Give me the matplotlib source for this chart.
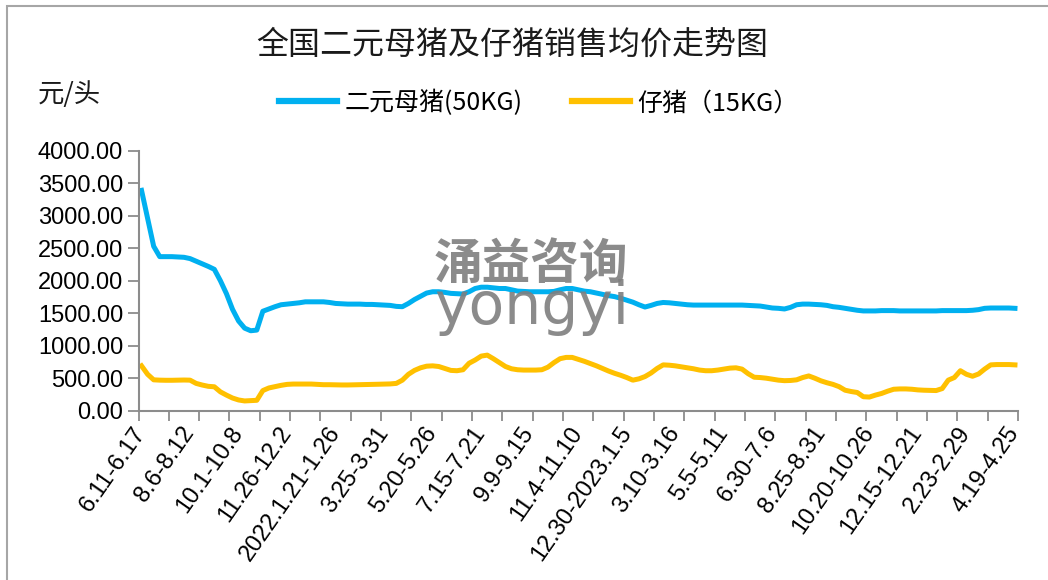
import numpy as np
import matplotlib
matplotlib.use("Agg")
import matplotlib.pyplot as plt
from matplotlib.patches import Rectangle
from matplotlib.lines import Line2D

CJK = ['Noto Sans CJK SC', 'DejaVu Sans']
NUM = ['Liberation Sans', 'DejaVu Sans']

# weekly prices, yuan per head
sow_price = [
    3390, 2960, 2530, 2370, 2370, 2370, 2365, 2360, 2340, 2300,
    2260, 2220, 2175, 2000, 1800, 1560, 1380, 1270, 1230, 1240,
    1530, 1565, 1600, 1630, 1640, 1650, 1660, 1675, 1675, 1675,
    1675, 1665, 1650, 1645, 1640, 1640, 1640, 1635, 1635, 1630,
    1625, 1620, 1605, 1600, 1650, 1710, 1760, 1810, 1830, 1830,
    1820, 1805, 1800, 1795, 1830, 1880, 1900, 1900, 1890, 1880,
    1880, 1860, 1840, 1835, 1830, 1830, 1830, 1830, 1835, 1860,
    1880, 1880, 1860, 1840, 1830, 1810, 1790, 1770, 1755, 1730,
    1700, 1670, 1630, 1595, 1620, 1650, 1665, 1660, 1650, 1640,
    1630, 1625, 1625, 1625, 1625, 1625, 1625, 1625, 1625, 1625,
    1620, 1615, 1610, 1595, 1580, 1575, 1565, 1590, 1630, 1640,
    1640, 1635, 1630, 1620, 1600, 1590, 1575, 1560, 1545, 1535,
    1535, 1535, 1540, 1540, 1540, 1535, 1535, 1535, 1535, 1535,
    1535, 1535, 1540, 1540, 1540, 1540, 1540, 1545, 1555, 1575,
    1580, 1580, 1580, 1580, 1575]

piglet_price = [
    690, 560, 475, 470, 468, 468, 470, 472, 470, 420,
    395, 375, 368, 290, 240, 195, 165, 150, 155, 160,
    310, 350, 370, 390, 405, 410, 410, 410, 410, 405,
    400, 400, 398, 396, 396, 398, 400, 402, 405, 407,
    410, 412, 420, 470, 560, 620, 660, 685, 690, 680,
    650, 620, 615, 630, 730, 780, 840, 855, 800, 740,
    680, 645, 630, 625, 625, 625, 630, 670, 740, 800,
    820, 820, 790, 760, 725, 690, 650, 610, 575, 545,
    510, 470, 490, 525, 580, 650, 705, 700, 690, 675,
    660, 645, 625, 615, 615, 625, 640, 655, 660, 640,
    570, 515, 510, 500, 485, 470, 462, 465, 475, 510,
    535, 500, 460, 430, 405, 370, 315, 295, 280, 215,
    210, 240, 265, 300, 330, 335, 335, 330, 320, 315,
    312, 310, 340, 470, 510, 615, 560, 530, 565, 640,
    705, 710, 710, 710, 705]

week_labels = ['6.11-6.17', '8.6-8.12', '10.1-10.8', '11.26-12.2',
               '2022.1.21-1.26', '3.25-3.31', '5.20-5.26', '7.15-7.21',
               '9.9-9.15', '11.4-11.10', '12.30-2023.1.5', '3.10-3.16',
               '5.5-5.11', '6.30-7.6', '8.25-8.31', '10.20-10.26',
               '12.15-12.21', '2.23-2.29', '4.19-4.25']

series_names = ['二元母猪(50KG)', '仔猪（15KG）']
colors = ['#00B0F0', '#FFC000']

W, H = 1048, 580
fig = plt.figure(figsize=(W / 100, H / 100), dpi=100)
ax = fig.add_axes([138.5 / W, 1 - 410.7 / H, (1018 - 138.5) / W, 260 / H])

x = np.arange(len(sow_price))
ax.plot(x, sow_price, color=colors[0], lw=3.6, solid_joinstyle='round')
ax.plot(x, piglet_price, color=colors[1], lw=3.6, solid_joinstyle='round')

ax.set_xlim(-0.5, len(x) - 0.5)
ax.set_ylim(0, 4000)
ax.set_yticks(np.arange(0, 4001, 500))
ax.set_yticklabels(['%.2f' % v for v in np.arange(0, 4001, 500)],
                   family=NUM, fontsize=17)
ax.tick_params(axis='y', length=8, width=1.3, color='#8c8c8c', pad=3)

ax.set_xticks(np.arange(0, len(x), 8))
ax.set_xticklabels(week_labels, rotation=55, ha='right', va='center',
                   rotation_mode='anchor', family=NUM, fontsize=17)
ax.set_xticks(np.arange(-0.5, len(x), 5), minor=True)
ax.tick_params(axis='x', which='major', length=0, pad=13)
ax.tick_params(axis='x', which='minor', length=7, width=1.3, color='#8c8c8c')

for s in ['top', 'right']:
    ax.spines[s].set_visible(False)
for s in ['left', 'bottom']:
    ax.spines[s].set_color('#8c8c8c')
    ax.spines[s].set_linewidth(1.5)

# watermark
fig.text(531 / W, 1 - 264 / H, '涌益咨询', family=CJK, fontsize=35,
         fontweight='bold', color='#7f7f7f', ha='center', va='center',
         alpha=0.9, zorder=10)
fig.text(532 / W, 1 - 324 / H, 'yongyi', family='DejaVu Sans', fontsize=42,
         color='#7f7f7f', ha='center', va='baseline', alpha=0.9, zorder=10)

fig.text(512 / W, 1 - 45 / H, '全国二元母猪及仔猪销售均价走势图', family=CJK,
         fontsize=23, ha='center', va='center', color='#1a1a1a')
fig.text(38 / W, 1 - 95 / H, '元/头', family=CJK, fontsize=19,
         ha='left', va='center', color='#1a1a1a')

handles = [Line2D([], [], color=c, lw=4.5) for c in colors]
fig.legend(handles, series_names, loc='center', bbox_to_anchor=(539 / W, 1 - 103 / H),
           ncol=2, frameon=False, prop={'family': CJK, 'size': 18},
           handlelength=2.3, handletextpad=0.3, columnspacing=2.0)

fig.patches.append(Rectangle((7 / W, -0.1), 1.2, 1 - 6 / H + 0.1,
                             transform=fig.transFigure, fill=False,
                             edgecolor='#a6a6a6', lw=1.5))

fig.savefig('out.png', dpi=100)
